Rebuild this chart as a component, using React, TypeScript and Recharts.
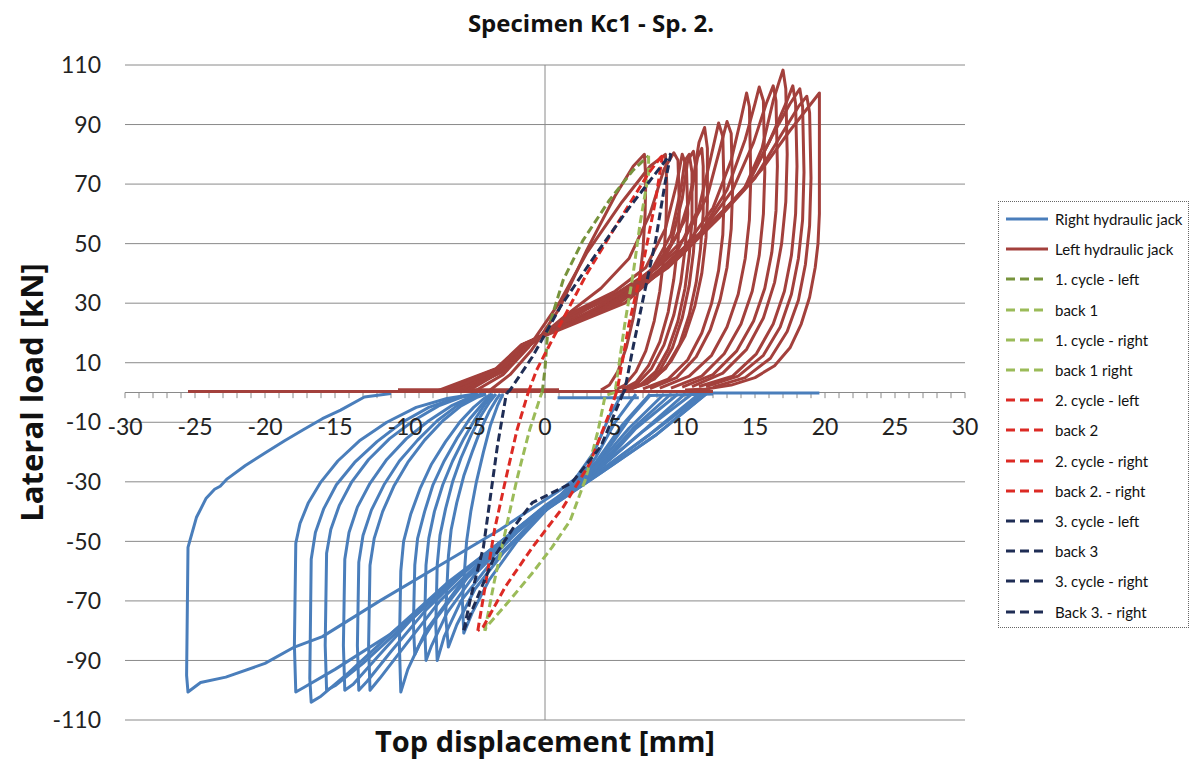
import React from 'react';
import { ScatterChart, Scatter, XAxis, YAxis, CartesianGrid, ReferenceLine, ReferenceDot } from 'recharts';

type Pt = [number, number];

// ---------- axis ticks ----------
const xTickLabels: number[] = [-30, -25, -20, -15, -10, -5, 0, 5, 10, 15, 20, 25, 30];
const xMinorTicks: number[] = Array.from({ length: 61 }, (_, i) => i - 30);
const yTicks: number[] = [-110, -90, -70, -50, -30, -10, 10, 30, 50, 70, 90, 110];

// ---------- Right hydraulic jack (negative loads) ----------
const rightJackLoops: Pt[][] = [
  [[12, -0.5], [7.5, -1], [6, -9], [3.9, -23], [1, -33], [-3.2, -46], [-7.5, -58], [-11.8, -70], [-15.9, -82], [-17.9, -85.5], [-20, -91], [-22.8, -95.6], [-24.6, -97.4], [-25.5, -100.6], [-25.6, -95], [-25.5, -52], [-24.9, -42], [-24.2, -35.5], [-23.6, -32.5], [-23.2, -31.5], [-22.7, -29], [-21.4, -24.5], [-20, -20.3], [-18.6, -16.2], [-17.3, -12.6], [-15.9, -8.8], [-14.6, -5.9], [-12.9, -1.5], [-11, -0.3]],
  [[11.5, -0.5], [8, -14], [4, -27], [-2, -46], [-7, -65], [-11, -81], [-15, -93], [-17.2, -99], [-17.8, -100.6], [-17.9, -85], [-17.8, -50.6], [-17.5, -44], [-16.9, -37], [-16, -30], [-14.8, -23], [-13.2, -16], [-11.3, -10], [-9.2, -5], [-7, -2], [-5, -0.5]],
  [[11.5, -0.5], [8, -14], [4, -27], [-2, -46], [-7, -64], [-11, -81], [-14, -94], [-16, -102], [-16.7, -104], [-16.8, -96], [-16.7, -56], [-16.4, -47], [-15.8, -39], [-14.9, -31], [-13.6, -23.5], [-12, -16.5], [-10.2, -10], [-8.3, -5], [-6.4, -1.8], [-4.8, -0.5]],
  [[11.3, -0.5], [7.5, -14], [3.8, -27], [-1.5, -44], [-6, -61], [-10, -78], [-13, -91], [-15, -98.5], [-15.6, -100], [-15.7, -85], [-15.6, -54], [-15.3, -46], [-14.7, -38], [-13.8, -30], [-12.6, -22.5], [-11.1, -15.5], [-9.4, -9.5], [-7.6, -4.5], [-5.9, -1.5], [-4.8, -0.5]],
  [[11, -0.5], [7.5, -14], [4, -26], [-1, -42], [-5.5, -59], [-9.5, -76], [-12, -89], [-13.7, -98], [-14.3, -100], [-14.4, -85], [-14.3, -56], [-14, -47], [-13.4, -38.5], [-12.5, -30.5], [-11.3, -22.5], [-9.9, -15.5], [-8.3, -9.5], [-6.7, -4.5], [-5.3, -1.5], [-4.5, -0.5]],
  [[10.5, -0.5], [7, -13], [4, -25], [-0.5, -40], [-5, -57], [-8.5, -73], [-11, -87], [-12.7, -97], [-13.3, -100], [-13.4, -85], [-13.3, -57], [-13, -48], [-12.4, -39.5], [-11.5, -31], [-10.4, -23], [-9.1, -16], [-7.7, -9.5], [-6.3, -4.5], [-5, -1.5], [-4.3, -0.5]],
  [[10, -0.5], [7, -13], [4, -25], [0, -38], [-4, -54], [-7.5, -70], [-10, -85], [-11.8, -96], [-12.5, -100], [-12.6, -85], [-12.5, -58], [-12.2, -49], [-11.6, -40], [-10.8, -31.5], [-9.8, -23.5], [-8.6, -16], [-7.3, -9.5], [-6, -4.5], [-4.8, -1.5], [-4.2, -0.5]],
  [[9.5, -0.5], [6.5, -12], [4, -25], [0.5, -37], [-3, -50], [-6, -64], [-8.5, -80], [-9.8, -93], [-10.3, -100.6], [-10.4, -85], [-10.3, -60], [-10.1, -50], [-9.6, -41], [-8.9, -32], [-8.1, -24], [-7.1, -16.5], [-6.1, -10], [-5.1, -5], [-4.3, -1.8], [-3.8, -0.5]],
  [[9, -0.5], [6.3, -12], [3.9, -24.5], [0.8, -36], [-2.5, -48.5], [-5.5, -62], [-7.8, -76], [-9, -85], [-9.3, -88], [-9.4, -78], [-9.3, -58], [-9.1, -49], [-8.6, -40], [-8, -31], [-7.2, -23], [-6.3, -15.5], [-5.4, -9], [-4.5, -4], [-3.8, -0.5]],
  [[8.5, -0.5], [6, -12], [3.8, -24], [1, -35], [-2, -47], [-5, -61], [-7, -74], [-8.1, -85], [-8.5, -90], [-8.6, -78], [-8.5, -58], [-8.3, -49], [-7.9, -40], [-7.3, -31], [-6.6, -23], [-5.8, -15.5], [-5, -9], [-4.3, -4], [-3.7, -0.5]],
  [[7.5, -0.5], [5.5, -11], [3.7, -23], [1.5, -33], [-1, -44], [-4, -58], [-6, -70], [-7.2, -82], [-7.7, -90], [-7.8, -78], [-7.7, -58], [-7.5, -48], [-7.1, -39], [-6.6, -30], [-6, -22], [-5.3, -14.5], [-4.6, -8], [-4, -3.5], [-3.5, -0.5]],
  [[6.5, -0.5], [5, -10], [3.6, -22], [2, -31], [-0.5, -42], [-3, -54], [-5, -66], [-6.3, -78], [-6.9, -85.5], [-7.1, -75], [-6.9, -55], [-6.7, -46], [-6.3, -37], [-5.8, -28], [-5.2, -20], [-4.6, -12.5], [-4, -6.5], [-3.5, -2.5], [-3.2, -0.5]],
  [[5.5, -0.5], [4.6, -8], [3.5, -20], [2, -30], [0, -40], [-2, -50], [-4, -63], [-5.2, -74], [-5.8, -80.8], [-5.9, -70], [-5.6, -50], [-5.3, -40], [-4.9, -30], [-4.4, -20], [-3.9, -11], [-3.4, -4.5], [-3, -0.5]],
  [[0.9, -1.8], [6.7, -1.8]],
  [[11.5, -0.2], [19.6, -0.2]],
];

// ---------- Left hydraulic jack (positive loads) ----------
const leftJackLoops: Pt[][] = [
  [[-25.5, 0.3], [12, 0.3]],
  [[-10.5, 0.9], [1, 0.9]],
  [[-4, 0.5], [-2.5, 6], [-1, 14], [1, 28], [3, 48], [5, 66], [6.3, 76], [7.1, 80], [7.2, 72], [7.15, 60], [7, 48], [6.7, 36], [6.3, 25], [5.8, 15], [5.2, 7], [4.6, 2.5], [4, 0.8]],
  [[-5, 0.5], [-3, 6], [-1.2, 15], [1, 30], [3, 47], [5.5, 64], [7.5, 76], [8.6, 80], [8.7, 70], [8.65, 58], [8.5, 46], [8.2, 34], [7.8, 24], [7.2, 14], [6.5, 7], [5.7, 2.5], [5, 0.8]],
  [[-5.5, 0.5], [-2.8, 8], [-1.3, 15], [1.5, 26], [4, 35], [6, 45], [7.5, 60], [8.5, 75], [9.2, 80.5], [9.5, 78], [9.6, 62], [9.5, 50], [9.2, 38], [8.8, 27], [8.2, 17], [7.4, 9], [6.5, 3.5], [5.5, 1]],
  [[-5.8, 0.5], [-2.9, 7.5], [-1.4, 15], [2, 27], [5, 34], [7.2, 42], [8.6, 55], [9.4, 70], [9.8, 80], [10.1, 76], [10.2, 60], [10, 48], [9.7, 37], [9.2, 26], [8.5, 16], [7.6, 8], [6.6, 3], [5.6, 1]],
  [[-6.1, 0.5], [-3, 7.5], [-1.4, 15], [2.2, 27], [5.2, 33.5], [7.6, 41], [9, 53], [9.7, 68], [10, 78], [10.3, 80], [10.5, 74], [10.5, 58], [10.3, 46], [10, 35], [9.5, 24], [8.8, 14.5], [7.9, 7], [6.8, 2.5], [5.7, 1]],
  [[-6, 0.5], [-3, 7], [-1.4, 15], [2, 27], [5, 33], [7.5, 40], [9, 50], [9.8, 65], [10.2, 78], [10.6, 81], [10.8, 75], [10.8, 60], [10.6, 47], [10.3, 36], [9.8, 25], [9.1, 15], [8.2, 7.5], [7, 3], [5.6, 1]],
  [[-6.2, 0.5], [-3.1, 7.5], [-1.5, 15.5], [2.5, 27.5], [5.6, 34], [8, 42], [9.6, 54], [10.5, 68], [10.9, 79], [11.2, 82], [11.3, 76], [11.3, 60], [11.1, 48], [10.8, 37], [10.3, 26], [9.6, 16], [8.6, 8], [7.3, 3], [5.9, 1]],
  [[-6.3, 0.5], [-3, 8], [-1.5, 15.5], [3, 28], [6, 35], [8.5, 45], [10, 58], [10.6, 72], [11, 84], [11.4, 89], [11.6, 82], [11.6, 64], [11.5, 52], [11.2, 40], [10.7, 29], [10, 19], [9, 10.5], [7.8, 4.5], [6.2, 1.2]],
  [[-6.8, 0.5], [-3.2, 8], [-1.5, 16], [3.5, 28], [7, 38], [9.5, 48], [11, 62], [11.8, 78], [12.4, 90.5], [12.7, 86], [12.8, 66], [12.7, 53], [12.4, 41], [11.9, 30], [11.2, 20], [10.2, 11], [8.8, 4.5], [7, 1.2]],
  [[-6.5, 0.5], [-3.1, 8], [-1.5, 16], [4, 29], [7.5, 40], [10, 52], [11.6, 66], [12.5, 82], [13, 91], [13.3, 87], [13.4, 68], [13.3, 55], [13, 42], [12.5, 31], [11.8, 21], [10.8, 12], [9.4, 5], [7.5, 1.3]],
  [[-7, 0.5], [-3.3, 8], [-1.6, 16], [3.5, 27], [7.4, 38], [10, 49], [12, 62], [13.3, 78], [14, 92], [14.4, 100.6], [14.6, 96], [14.7, 72], [14.6, 58], [14.3, 45], [13.8, 33], [13, 22], [11.9, 12.5], [10.3, 5.5], [8.2, 1.5]],
  [[-7.3, 0.5], [-3.4, 8], [-1.6, 16], [4, 28], [8, 40], [11, 53], [13, 68], [14.3, 85], [15, 97], [15.3, 102.6], [15.6, 98], [15.7, 74], [15.6, 60], [15.3, 46], [14.8, 34], [14, 23], [12.8, 13], [11.2, 5.5], [9, 1.5]],
  [[-7.4, 0.5], [-3.4, 8], [-1.6, 16], [4.2, 28.5], [8.2, 41], [11.2, 54], [13.4, 68], [14.9, 84], [15.8, 97], [16.3, 103], [16.5, 98], [16.6, 76], [16.5, 61], [16.2, 47], [15.7, 35], [14.9, 24], [13.7, 14], [12, 6], [9.8, 1.8]],
  [[-7.7, 0.5], [-3.5, 8], [-1.7, 16], [4.5, 29], [8.5, 42], [11.4, 55], [14.2, 68], [15.5, 82], [16.3, 98], [16.7, 104], [17, 108.3], [17.2, 102], [17.3, 80], [17.2, 64], [16.9, 50], [16.4, 37], [15.6, 25], [14.4, 14.5], [12.7, 6.5], [10.5, 2]],
  [[-7.2, 0.5], [-3.4, 8], [-1.6, 16], [4.8, 29], [8.8, 42], [11.8, 56], [14.3, 69], [16, 84], [17.2, 97], [17.7, 103], [17.9, 97], [18, 76], [17.9, 60], [17.6, 46], [17.1, 34], [16.3, 23], [15.1, 13], [13.4, 5.5], [11, 2]],
  [[-7.5, 0.5], [-3.4, 8], [-1.6, 16], [5, 30], [9, 43], [12, 57], [14.5, 70], [16.2, 86], [17.5, 97], [18.2, 102], [18.4, 96], [18.5, 74], [18.4, 58], [18.1, 45], [17.6, 33], [16.8, 22], [15.6, 12.5], [13.8, 5.5], [11.5, 2]],
  [[-7.1, 0.5], [-3.3, 8], [-1.6, 16], [5.3, 30], [9.5, 45], [12.5, 59], [15, 72], [16.8, 86], [18.1, 96], [18.7, 99.5], [18.9, 94], [19, 72], [18.9, 56], [18.6, 43], [18.1, 31], [17.3, 20.5], [16.1, 11.5], [14.3, 5], [12, 1.8]],
  [[-7, 0.5], [-3.3, 8], [-1.6, 16], [5.7, 30], [10, 48], [13, 62], [15.5, 75], [17.5, 88], [19, 97], [19.6, 100.6], [19.6, 80], [19.6, 60], [19.5, 50], [19.3, 42], [18.9, 32], [18.3, 23], [17.5, 15], [16.4, 9], [15, 5], [13.3, 2.5], [11.5, 1.2], [10, 0.8]],
];

// ---------- dashed reference cycles ----------
const cycle1Left: Pt[] = [[-0.2, 0], [0, 8], [0.2, 21], [1.3, 37.8], [2.7, 51], [4.6, 64.6], [6.3, 74.7], [7.4, 79.5]];
const back1: Pt[] = [[7.4, 79.5], [7.4, 73.6], [6.8, 57], [6.3, 40], [5.7, 23], [5.2, 6.5], [5, 0]];
const cycle1Right: Pt[] = [[5, 0], [4.3, -1], [3.8, -12.6], [2.9, -29], [1.8, -43], [0.5, -52], [-0.9, -60.6], [-2.5, -69.7], [-4.2, -78.8], [-4.3, -80]];
const back1Right: Pt[] = [[-4.3, -80], [-3.6, -63], [-2.8, -46], [-2, -29], [-1.1, -12.6], [-0.3, -1], [-0.2, 0]];
const cycle2Left: Pt[] = [[-1.2, 0], [-0.6, 7.5], [1.1, 23], [3, 40], [5.2, 57], [7.4, 73.7], [8.4, 79.8]];
const back2: Pt[] = [[8.4, 79.8], [7.9, 64.6], [7.1, 45.5], [6, 23], [5.2, 1.8], [5.1, 0]];
const cycle2Right: Pt[] = [[5.1, 0], [4.6, -7], [3.2, -23.8], [1.3, -38.5], [-0.9, -52], [-2.8, -65], [-4.4, -78.6], [-4.8, -80]];
const back2Right: Pt[] = [[-4.8, -80], [-4.2, -63], [-3.6, -46], [-2.8, -29], [-2, -12.6], [-1.2, 0]];
const cycle3Left: Pt[] = [[-2.7, 0], [-2.5, 0.8], [-0.9, 12], [1.1, 28.8], [3.5, 45.5], [6, 62], [7.9, 73.6], [9, 80.3]];
const back3: Pt[] = [[9, 80.3], [8.6, 71], [7.9, 51], [7.1, 33.5], [6.3, 15.4], [5.7, 0.8], [5.6, 0]];
const cycle3Right: Pt[] = [[5.6, 0], [4, -18], [1.9, -30.4], [-0.9, -37], [-2.2, -45], [-3.6, -55], [-4.7, -67.4], [-5.8, -79.8]];
const back3Right: Pt[] = [[-5.8, -79.8], [-5.3, -68.7], [-4.4, -52], [-3.9, -35], [-3.4, -18], [-2.8, -1.5], [-2.7, 0]];

// ---------- styling ----------
const BLUE = '#4A7EBB';
const RED = '#A3403C';
const OLIVE = '#77933C';
const LIGHTGREEN = '#9BBB59';
const BRIGHTRED = '#DC2A24';
const NAVY = '#1F2D55';
const FONT = 'Lato, "Open Sans", sans-serif';
const TITLE_FONT = '"Open Sans", Lato, sans-serif';

type Series = { name: string; color: string; dashed: boolean; loops: Pt[][] };

const seriesList: Series[] = [
  { name: 'Right hydraulic jack', color: BLUE, dashed: false, loops: rightJackLoops },
  { name: 'Left hydraulic jack', color: RED, dashed: false, loops: leftJackLoops },
  { name: '1. cycle - left', color: OLIVE, dashed: true, loops: [cycle1Left] },
  { name: 'back 1', color: LIGHTGREEN, dashed: true, loops: [back1] },
  { name: '1. cycle - right', color: LIGHTGREEN, dashed: true, loops: [cycle1Right] },
  { name: 'back 1 right', color: LIGHTGREEN, dashed: true, loops: [back1Right] },
  { name: '2. cycle - left', color: BRIGHTRED, dashed: true, loops: [cycle2Left] },
  { name: 'back 2', color: BRIGHTRED, dashed: true, loops: [back2] },
  { name: '2. cycle - right', color: BRIGHTRED, dashed: true, loops: [cycle2Right] },
  { name: 'back 2. - right', color: BRIGHTRED, dashed: true, loops: [back2Right] },
  { name: '3. cycle - left', color: NAVY, dashed: true, loops: [cycle3Left] },
  { name: 'back 3', color: NAVY, dashed: true, loops: [back3] },
  { name: '3. cycle - right', color: NAVY, dashed: true, loops: [cycle3Right] },
  { name: 'Back 3. - right', color: NAVY, dashed: true, loops: [back3Right] },
];

const toPts = (arr: Pt[]) => arr.map(([x, y]) => ({ x, y }));
const NoShape = () => <g />;

const Legend = () => (
  <div
    style={{
      position: 'absolute',
      left: 998,
      top: 201,
      width: 191,
      height: 427,
      border: '1px dotted #666',
      boxSizing: 'border-box',
      fontFamily: FONT,
      fontSize: 15,
      color: '#111',
    }}
  >
    {seriesList.map((s, i) => (
      <div key={s.name} style={{ position: 'absolute', left: 0, top: 5 + i * 30.2, height: 24, display: 'flex', alignItems: 'center' }}>
        <svg width={50} height={10} style={{ marginLeft: 6 }}>
          <line x1={1} y1={5} x2={43} y2={5} stroke={s.color} strokeWidth={3.2} strokeDasharray={s.dashed ? '9 5' : undefined} />
        </svg>
        <span style={{ whiteSpace: 'nowrap' }}>{s.name}</span>
      </div>
    ))}
  </div>
);

export default function App() {
  return (
    <div style={{ position: 'absolute', left: 0, top: 0, width: 1192, height: 763, background: '#fff', fontFamily: FONT }}>
      <div
        style={{
          position: 'absolute',
          left: 0,
          top: 7,
          width: 1182,
          textAlign: 'center',
          fontWeight: 700,
          fontSize: 24,
          lineHeight: '32px',
          color: '#111',
          fontFamily: TITLE_FONT,
        }}
      >
        Specimen Kc1 - Sp. 2.
      </div>
      <ScatterChart width={1192} height={763} margin={{ top: 65, right: 227, bottom: 0, left: 5 }}>
        <CartesianGrid horizontal vertical={false} stroke="#8a8a8a" strokeWidth={1} />
        <XAxis
          dataKey="x"
          type="number"
          domain={[-30, 30]}
          ticks={xTickLabels}
          allowDataOverflow
          axisLine={false}
          tickLine={false}
          tick={false}
          height={43}
          label={{
            value: 'Top displacement [mm]',
            position: 'insideBottom',
            offset: 11,
            style: { fontSize: 29, fontWeight: 700, fill: '#111', fontFamily: TITLE_FONT },
          }}
        />
        <YAxis
          dataKey="y"
          type="number"
          domain={[-110, 110]}
          ticks={yTicks}
          allowDataOverflow
          axisLine={false}
          tickLine={false}
          tickSize={16}
          tickMargin={8}
          width={120}
          tick={{ fontSize: 23, fill: '#222', fontFamily: FONT }}
          label={{
            value: 'Lateral load [kN]',
            angle: -90,
            position: 'insideLeft',
            offset: 27,
            style: { fontSize: 31, fontWeight: 700, fill: '#111', fontFamily: TITLE_FONT, textAnchor: 'middle' },
          }}
        />
        <ReferenceLine x={0} stroke="#8a8a8a" strokeWidth={1} ifOverflow="visible" />
        <ReferenceLine y={0} stroke="#8a8a8a" strokeWidth={1} ifOverflow="visible" />
        {xMinorTicks.map((t) => (
          <ReferenceLine
            key={'mt' + t}
            segment={[{ x: t, y: 0 }, { x: t, y: -1.9 }]}
            stroke="#8a8a8a"
            strokeWidth={1}
            ifOverflow="visible"
          />
        ))}
        {xTickLabels.map((t) => (
          <ReferenceDot
            key={'xl' + t}
            x={t}
            y={-11.5}
            r={1}
            fill="none"
            stroke="none"
            ifOverflow="visible"
            label={{ value: String(t), position: 'center', fontSize: 23, fill: '#222', fontFamily: FONT }}
          />
        ))}
        {seriesList.map((s) =>
          s.loops.map((loop, li) => (
            <Scatter
              key={s.name + li}
              name={s.name}
              data={toPts(loop)}
              shape={NoShape}
              line={{
                stroke: s.color,
                strokeWidth: 3,
                strokeDasharray: s.dashed ? '8 4' : undefined,
                strokeLinejoin: 'round',
                fill: 'none',
              }}
              lineType="joint"
              isAnimationActive={false}
              legendType="none"
            />
          ))
        )}
      </ScatterChart>
      <Legend />
    </div>
  );
}
